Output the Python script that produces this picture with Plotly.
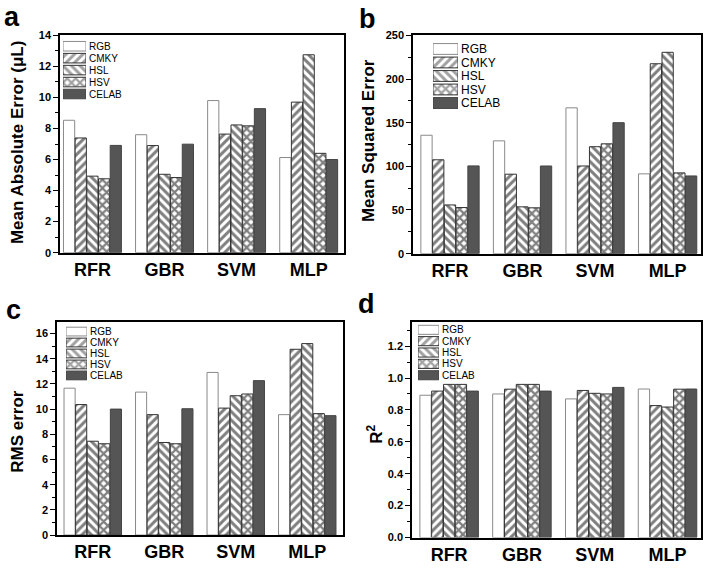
import plotly.graph_objects as go

# ---------------- data ----------------
categories = ["RFR", "GBR", "SVM", "MLP"]
series_names = ["RGB", "CMKY", "HSL", "HSV", "CELAB"]

# (a) Mean Absolute Error (uL)
mae_rgb = [8.53, 7.60, 9.80, 6.13]
mae_cmky = [7.39, 6.90, 7.64, 9.70]
mae_hsl = [4.93, 5.05, 8.23, 12.75]
mae_hsv = [4.76, 4.84, 8.17, 6.40]
mae_celab = [6.91, 6.99, 9.28, 6.00]

# (b) Mean Squared Error
mse_rgb = [135.6, 129.2, 167.0, 91.4]
mse_cmky = [107.5, 91.0, 100.4, 217.5]
mse_hsl = [55.8, 53.6, 122.5, 230.6]
mse_hsv = [52.8, 52.5, 125.8, 92.5]
mse_celab = [100.5, 100.4, 150.0, 89.0]

# (c) RMS error
rms_rgb = [11.66, 11.35, 12.91, 9.56]
rms_cmky = [10.36, 9.56, 10.08, 14.75]
rms_hsl = [7.45, 7.35, 11.06, 15.20]
rms_hsv = [7.25, 7.25, 11.20, 9.64]
rms_celab = [10.00, 10.03, 12.26, 9.48]

# (d) R^2
r2_rgb = [0.892, 0.900, 0.869, 0.931]
r2_cmky = [0.918, 0.930, 0.922, 0.827]
r2_hsl = [0.960, 0.960, 0.904, 0.818]
r2_hsv = [0.960, 0.960, 0.900, 0.930]
r2_celab = [0.918, 0.918, 0.941, 0.931]

panel_values = [
    [mae_rgb, mae_cmky, mae_hsl, mae_hsv, mae_celab],
    [mse_rgb, mse_cmky, mse_hsl, mse_hsv, mse_celab],
    [rms_rgb, rms_cmky, rms_hsl, rms_hsv, rms_celab],
    [r2_rgb, r2_cmky, r2_hsl, r2_hsv, r2_celab],
]
panel_titles = ["Mean Absolute Error (μL)", "Mean Squared Error", "RMS error", "R<sup>2</sup>"]
panel_letters = ["a", "b", "c", "d"]
y_ranges = [[0, 14], [0, 250], [0, 16.9], [0, 1.35]]
y_dticks = [2, 50, 2, 0.2]
y_formats = ["d", "d", "d", ".1f"]

# ---------------- styling ----------------
W, H = 709, 568
FONT = "Liberation Sans, Arial, sans-serif"
fills = ["white", "white", "white", "white", "#555555"]
shapes = ["", "/", "\\", "x", ""]
pat_solidity = [0.5, 0.5, 0.5, 0.6, 0.5]
edges = ["#8a8a8a", "#333333", "#333333", "#333333", "#444444"]


def px(x):
    return x / W


def py(y):
    return 1 - y / H


# plot-area boxes in pixels: (left, right, top, bottom)
boxes = [(60, 344, 30, 252), (413, 701, 30, 253), (57, 343, 323, 540.5), (412, 701, 323, 543)]
x_ranges = [[-0.45, 3.49], [-0.51, 3.46], [-0.5, 3.5], [-0.51, 3.46]]
# legend swatch boxes: (left, right, top, bottom)
leg_boxes = [(63, 86, 35, 96), (433, 458, 37, 106), (66, 87, 327, 383), (418, 439, 325, 383)]
leg_font = [10, 12, 10, 10]
title_pos = [(17, 140), (368, 138), (18, 435), (375, 437)]
letter_pos = [(2, 29), (357, 31), (4, 328), (356, 322)]

fig = go.Figure()
layout = dict(
    width=W, height=H, autosize=False,
    margin=dict(l=0, r=0, t=0, b=0),
    paper_bgcolor="white", plot_bgcolor="white",
    barmode="group", bargap=0.19, bargroupgap=0.04,
    showlegend=False,
    font=dict(family=FONT, color="black"),
)
annotations = []

for k in range(4):
    xa = "x" if k == 0 else f"x{k + 1}"
    ya = "y" if k == 0 else f"y{k + 1}"
    for s, name in enumerate(series_names):
        fig.add_trace(go.Bar(
            x=categories, y=panel_values[k][s], name=name,
            xaxis=xa, yaxis=ya,
            marker=dict(color=fills[s],
                        pattern=dict(shape=shapes[s], fgcolor="black", size=6,
                                     solidity=pat_solidity[s]),
                        line=dict(color=edges[s], width=1)),
            showlegend=False,
        ))
    l, r, t, b = boxes[k]
    xkey = "xaxis" if k == 0 else f"xaxis{k + 1}"
    ykey = "yaxis" if k == 0 else f"yaxis{k + 1}"
    layout[xkey] = dict(
        domain=[px(l), px(r)], anchor=ya, type="category", range=x_ranges[k],
        showline=True, mirror=True, linecolor="black", linewidth=1.5,
        ticks="", showgrid=False, zeroline=False,
        tickfont=dict(family=FONT, size=18, weight="bold", color="black"),
        ticklabelstandoff=0,
    )
    layout[ykey] = dict(
        domain=[py(b), py(t)], anchor=xa, range=y_ranges[k],
        showline=True, mirror=True, linecolor="black", linewidth=1.5,
        ticks="outside", ticklen=5, tickwidth=1, tickcolor="black",
        dtick=y_dticks[k], tick0=0, tickformat=y_formats[k],
        minor=dict(ticks="outside", ticklen=3, tickwidth=1, tickcolor="black", dtick=y_dticks[k] / 2),
        showgrid=False, zeroline=False,
        tickfont=dict(family=FONT, size=11, weight="bold", color="black"),
    )

    # legend built as a small bar chart of swatches with labels on the right
    li = k + 5
    lxa, lya = f"x{li}", f"y{li}"
    ll, lr, lt, lb = leg_boxes[k]
    fig.add_trace(go.Bar(
        x=[1] * len(series_names), y=series_names, orientation="h", width=0.8,
        xaxis=lxa, yaxis=lya,
        marker=dict(color=fills,
                    pattern=dict(shape=shapes, fgcolor="black", size=6, solidity=pat_solidity),
                    line=dict(color=edges, width=1)),
        hoverinfo="skip", showlegend=False,
    ))
    layout[f"xaxis{li}"] = dict(domain=[px(ll), px(lr)], anchor=lya, range=[0, 1],
                                visible=False, fixedrange=True)
    layout[f"yaxis{li}"] = dict(domain=[py(lb), py(lt)], anchor=lxa, type="category",
                                categoryorder="array", categoryarray=series_names,
                                tickmode="array", tickvals=series_names, ticktext=series_names,
                                range=[len(series_names) - 0.5, -0.5],
                                side="right", showline=False, ticks="", showgrid=False,
                                zeroline=False, ticklabelstandoff=2, fixedrange=True,
                                tickfont=dict(family=FONT, size=leg_font[k], color="black"))

    tx, ty = title_pos[k]
    annotations.append(dict(
        text=panel_titles[k], x=px(tx), y=py(ty), xref="paper", yref="paper",
        textangle=-90, showarrow=False, xanchor="center", yanchor="middle",
        font=dict(family=FONT, size=17, weight="bold", color="black"),
    ))
    lx, lyy = letter_pos[k]
    annotations.append(dict(
        text=panel_letters[k], x=px(lx), y=py(lyy), xref="paper", yref="paper",
        showarrow=False, xanchor="left", yanchor="bottom",
        font=dict(family=FONT, size=27, weight="bold", color="black"),
    ))

layout["annotations"] = annotations
fig.update_layout(**layout)
fig.write_html(
    "out.html",
    config={"displayModeBar": False},
    post_script="document.body.style.margin='0';document.body.style.padding='0';",
)
